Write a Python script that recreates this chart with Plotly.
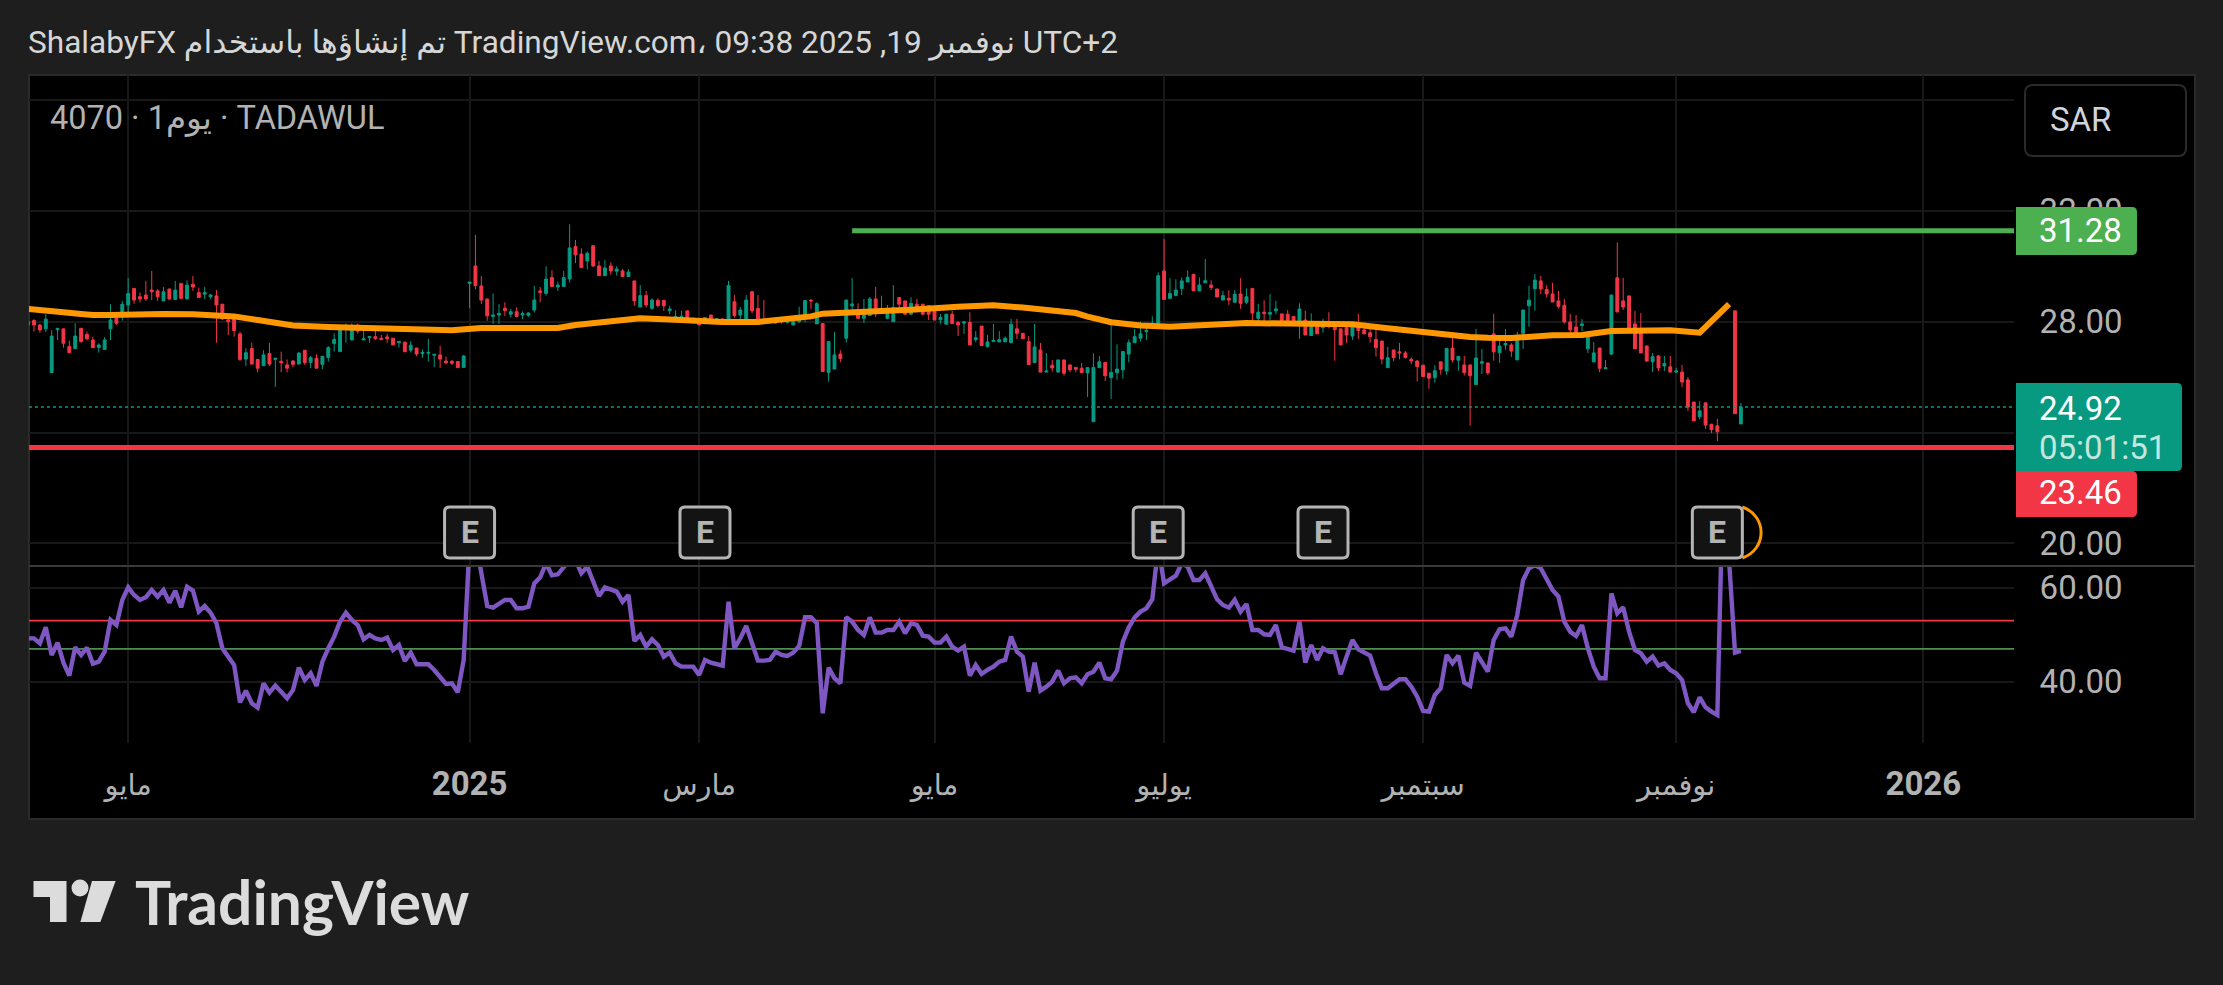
import plotly.graph_objects as go

opens = [28.00,28.04,27.88,27.74,26.16,27.71,27.74,27.10,27.03,27.76,
27.54,27.34,27.07,27.00,27.74,28.12,28.24,28.60,29.20,28.90,
28.96,29.14,29.11,28.75,29.18,28.80,29.38,28.82,29.35,29.05,
28.99,28.90,28.93,28.63,28.06,28.21,27.56,26.65,27.03,26.64,
26.41,26.85,26.64,26.57,26.44,26.58,26.47,26.97,26.53,26.68,
26.46,26.71,27.21,26.92,27.82,27.34,27.88,27.34,27.42,27.46,
27.40,27.45,27.40,27.24,27.26,26.97,27.05,26.85,26.86,26.79,
26.80,26.58,26.57,26.56,26.35,29.38,30.01,29.29,28.82,28.19,
28.24,28.48,28.27,28.36,28.24,28.23,28.42,29.11,29.02,29.59,
29.25,29.27,29.54,30.71,30.44,30.19,30.74,30.01,29.66,30.01,
29.82,29.83,29.63,29.47,28.53,28.94,28.48,28.77,28.77,28.40,
28.06,28.17,28.39,27.98,28.10,27.93,28.24,28.07,28.10,27.92,
28.72,28.24,28.07,29.08,28.48,28.06,28.06,27.95,28.12,27.98,
27.88,28.00,28.15,28.77,27.92,27.93,26.16,26.29,26.83,27.40,
28.57,28.42,28.12,28.22,28.82,28.31,28.12,28.00,28.87,28.75,
28.27,28.63,28.63,28.58,28.41,28.07,27.91,28.27,27.97,27.95,
27.97,27.35,27.84,27.10,27.28,27.27,27.27,27.24,27.74,27.58,
27.28,26.52,26.98,26.18,26.43,26.18,26.62,26.44,26.35,26.32,
26.15,24.39,26.34,26.53,25.98,26.16,26.26,26.83,27.24,27.40,
27.64,27.86,27.92,29.83,28.84,28.94,29.20,29.43,29.71,29.11,
29.40,29.32,29.18,28.78,28.84,28.70,29.00,28.70,29.20,28.12,
28.34,28.27,28.39,28.28,28.27,28.19,27.88,28.06,27.50,27.94,
27.78,27.98,27.91,27.74,27.78,27.48,27.86,27.70,27.60,27.36,
27.30,26.34,26.98,26.91,26.87,26.64,26.58,26.43,26.14,25.98,
26.55,26.22,27.05,26.61,26.44,26.44,25.73,26.50,26.51,27.56,
26.88,27.16,27.16,26.62,27.58,28.57,29.19,29.47,29.16,29.00,
28.75,28.59,27.99,27.81,27.86,27.02,26.55,27.05,26.30,26.83,
29.58,28.75,28.93,27.92,27.63,27.12,26.55,26.76,26.40,26.37,
26.18,26.18,25.90,25.10,24.57,25.07,24.30,24.24,None,None,28.39,24.31]

highs = [28.06,28.09,27.92,28.27,27.69,27.76,27.74,27.32,27.94,27.76,
27.64,27.46,27.22,27.44,28.63,28.30,28.75,29.57,29.20,29.05,
29.47,29.83,29.17,29.25,29.18,29.47,29.38,29.49,29.65,29.23,
29.25,29.00,29.14,28.63,28.24,28.24,27.64,27.04,27.24,26.64,
26.97,27.24,26.68,26.92,26.64,26.62,26.89,26.97,26.76,26.82,
26.76,27.12,27.58,27.84,27.94,27.94,27.93,27.74,27.46,27.84,
27.52,27.57,27.40,27.29,27.28,27.30,27.05,27.00,27.38,26.82,
27.12,26.74,26.62,26.58,26.80,29.43,31.13,29.65,28.82,29.02,
28.63,28.70,28.46,28.52,28.37,28.34,29.29,29.25,30.00,29.85,
29.44,29.83,31.51,30.95,30.65,30.53,30.77,30.19,30.23,30.14,
30.00,29.90,29.89,29.47,29.32,29.11,28.84,28.84,28.78,28.57,
28.41,28.39,28.39,28.16,28.10,28.16,28.24,28.12,28.12,29.47,
28.96,28.53,28.96,29.11,28.96,28.78,28.10,28.15,28.15,28.12,
28.12,28.54,28.78,28.82,28.70,27.95,27.30,27.62,26.97,28.78,
29.57,28.66,28.82,28.89,29.25,28.94,28.60,29.32,28.88,28.75,
28.88,28.82,28.63,28.60,28.42,28.28,28.27,28.39,28.03,28.03,
28.34,27.66,27.84,27.52,27.92,27.66,27.47,28.10,28.10,27.58,
27.48,27.92,27.23,26.87,26.62,26.62,26.62,26.44,26.35,26.51,
26.36,26.86,26.76,26.53,27.92,27.18,26.94,27.36,27.74,28.00,
27.78,28.19,29.78,30.98,29.57,29.53,29.60,29.85,29.71,29.60,
30.26,29.49,29.18,29.11,29.14,29.14,29.57,29.20,29.20,28.64,
28.77,28.99,28.75,28.28,28.42,28.19,28.66,28.39,28.30,28.00,
28.10,28.34,27.91,27.74,27.88,27.94,28.28,27.97,27.74,27.76,
27.30,27.09,26.98,27.23,26.94,26.71,26.62,26.43,26.14,26.43,
26.55,27.05,27.51,26.76,26.76,26.44,27.74,27.02,26.51,28.28,
27.34,27.74,27.23,27.63,28.42,29.29,29.72,29.65,29.32,29.40,
29.11,28.82,28.28,28.24,28.09,27.56,27.27,27.05,26.62,28.96,
30.86,29.58,28.93,28.39,28.31,27.15,26.87,26.80,26.76,26.76,
26.33,26.44,26.00,25.10,25.13,25.07,24.31,24.49,None,None,28.39,25.07]

lows = [27.82,27.64,27.60,27.62,26.16,27.34,27.06,26.88,27.03,27.24,
27.32,27.06,26.88,26.98,27.34,27.88,28.04,28.30,28.64,28.69,
28.75,28.78,28.75,28.75,28.78,28.80,28.84,28.82,29.11,28.87,
28.82,28.82,27.24,28.06,27.52,27.46,26.58,26.40,26.47,26.17,
26.41,26.40,25.64,26.17,26.17,26.35,26.47,26.44,26.32,26.32,
26.29,26.56,26.92,26.92,27.24,27.34,27.57,27.34,27.24,27.34,
27.34,27.24,27.16,27.06,26.89,26.89,26.75,26.70,26.56,26.36,
26.33,26.46,26.44,26.34,26.34,28.48,29.17,28.64,28.03,27.92,
27.92,28.21,28.15,28.15,28.10,28.17,28.33,28.70,28.94,29.25,
29.11,29.25,29.41,30.11,29.93,29.88,29.97,29.65,29.66,29.69,
29.66,29.61,29.61,28.57,28.53,28.51,28.43,28.51,28.39,28.27,
28.06,28.06,28.04,27.93,27.88,27.93,27.91,27.92,27.91,27.92,
28.15,27.92,28.07,28.30,27.91,27.92,27.93,27.93,27.93,27.93,
27.88,27.95,27.98,28.46,27.92,26.20,25.84,26.29,26.53,27.24,
28.27,28.10,27.95,28.22,28.17,28.30,28.09,28.00,28.46,28.24,
28.24,28.34,28.24,28.06,28.06,27.92,27.91,27.93,27.48,27.56,
27.16,27.26,27.14,27.06,27.28,27.26,27.27,27.24,27.38,27.38,
26.45,26.52,26.18,26.18,26.20,26.18,26.05,26.18,26.18,26.16,
25.28,24.39,26.34,25.86,25.21,25.90,25.94,26.53,27.24,27.28,
27.34,27.74,27.82,28.80,28.82,28.94,28.96,29.43,29.11,29.11,
29.40,29.14,28.89,28.78,28.60,28.70,28.46,28.63,27.98,27.92,
27.98,27.92,28.27,27.92,27.88,27.88,27.38,27.52,27.50,27.56,
27.60,27.76,26.59,27.16,27.24,27.34,27.38,27.56,27.24,26.74,
26.46,26.34,26.58,26.64,26.67,26.46,25.84,26.00,25.58,25.80,
26.09,26.08,26.53,26.23,26.06,24.25,25.73,26.11,26.08,26.59,
26.51,26.99,26.73,26.62,27.02,27.82,28.40,29.00,28.87,28.71,
28.48,27.93,27.53,27.56,27.66,26.87,26.55,26.18,26.30,26.80,
28.35,28.42,27.60,27.02,26.87,26.55,26.18,26.22,26.22,26.18,
26.15,25.64,24.78,24.42,24.48,24.13,23.98,23.69,None,None,24.68,24.31]

closes = [27.88,27.88,27.70,28.09,27.48,27.76,27.22,26.88,27.48,27.28,
27.38,27.06,27.16,27.34,28.06,27.94,28.63,29.02,28.78,28.82,
28.82,29.08,28.90,29.08,28.82,29.14,28.84,29.32,29.25,28.87,
29.05,28.96,28.60,28.10,28.00,27.68,26.64,26.88,26.47,26.32,
26.80,26.47,26.68,26.52,26.32,26.46,26.87,26.52,26.70,26.32,
26.75,27.06,27.36,27.84,27.84,27.82,27.66,27.38,27.46,27.39,
27.35,27.38,27.16,27.29,26.92,27.15,26.83,26.89,26.89,26.82,
26.65,26.52,26.50,26.34,26.76,29.43,29.30,28.78,28.21,28.24,
28.30,28.40,28.36,28.19,28.29,28.31,28.78,29.05,29.54,29.27,
29.32,29.59,30.66,30.41,29.95,30.47,30.01,29.66,29.94,29.83,
29.90,29.63,29.79,28.75,28.94,28.60,28.78,28.58,28.57,28.46,
28.19,28.19,28.07,28.10,27.88,28.15,28.03,28.10,27.95,29.30,
28.22,28.42,28.78,28.39,27.91,28.00,27.98,28.10,28.00,28.06,
28.09,28.22,28.76,28.75,28.65,26.20,27.28,26.80,26.67,28.78,
28.64,28.12,28.42,28.82,28.30,28.48,28.30,28.51,28.63,28.27,
28.66,28.48,28.27,28.27,28.06,28.15,28.27,27.93,27.88,27.99,
27.16,27.42,27.14,27.27,27.32,27.35,27.40,27.91,27.58,27.38,
26.45,27.09,26.18,26.22,26.33,26.62,26.14,26.26,26.28,26.16,
26.34,26.35,26.55,26.05,26.17,26.29,26.92,27.24,27.46,27.56,
27.69,27.94,29.66,28.80,29.02,29.14,29.47,29.60,29.11,29.32,
29.48,29.23,28.89,28.94,28.78,28.99,28.66,28.90,28.31,28.34,
28.29,28.33,28.46,27.92,27.88,27.88,28.46,27.52,28.00,27.56,
27.98,27.82,27.71,27.16,27.52,27.82,27.68,27.56,27.46,27.06,
26.65,26.70,26.70,26.87,26.71,26.58,26.38,26.02,25.96,26.23,
26.28,27.04,26.62,26.75,26.16,26.05,26.69,26.55,26.15,26.91,
27.12,27.21,26.94,27.45,28.42,28.78,29.50,29.18,29.00,28.71,
28.55,27.99,27.70,27.57,27.92,27.46,26.87,26.32,26.34,28.96,
28.35,28.53,27.64,27.02,26.87,26.58,26.73,26.33,26.49,26.18,
26.22,25.82,24.92,24.42,24.78,24.27,24.10,24.03,None,None,24.68,24.92]

ema_bars = [0,3,6,9,11,14,17,23,28,32,35,39,43,45,51,57,62,68,72,
            77,81,85,90,93,99,104,110,114,118,124,130,133,135,139,146,
            150,153,158,164,169,178,180,184,189,194,200,207,214,219,
            225,231,236,245,248,252,259,264,269,276,279,284,289]
ema_values = [28.46,28.42,28.34,28.28,28.24,28.24,28.27,28.28,28.27,28.23,28.19,28.06,27.89,27.86,27.81,27.77,27.72,27.70,27.69,
              27.77,27.77,27.74,27.77,27.88,28.03,28.12,28.07,28.03,27.99,27.99,28.11,28.19,28.29,28.31,28.39,
              28.43,28.48,28.54,28.59,28.51,28.31,28.18,27.98,27.86,27.82,27.89,27.95,27.93,27.91,
              27.91,27.76,27.64,27.45,27.42,27.41,27.51,27.52,27.66,27.69,27.69,27.60,28.63]

rsi = [49.23,49.23,48.17,51.57,45.69,48.31,44.06,41.29,47.32,45.69,
47.25,43.85,44.27,46.40,53.13,52.07,57.39,60.08,58.45,57.39,
57.96,59.52,58.10,59.52,56.82,59.37,55.83,60.22,59.37,54.91,
56.11,54.69,52.43,47.11,45.33,43.56,35.62,38.10,35.41,34.49,
39.66,37.68,39.17,37.68,36.47,38.24,42.99,40.37,41.79,39.10,
44.27,47.11,49.59,52.78,54.69,53.13,52.07,49.02,49.94,49.23,
48.88,49.38,46.75,47.82,44.41,46.19,43.70,43.70,43.70,42.50,
41.08,39.52,39.66,37.75,44.63,69.44,70.15,62.71,56.11,55.76,
56.68,57.39,57.39,55.62,55.62,55.97,60.93,62.21,65.19,62.63,
62.85,64.48,65.90,65.90,63.06,64.48,61.50,58.24,60.08,59.73,
59.16,57.03,58.45,48.67,49.94,47.46,49.02,47.82,45.33,46.19,
43.92,43.21,43.21,43.21,41.44,44.63,44.06,43.78,43.42,57.03,
47.11,49.23,51.86,48.17,44.48,44.48,44.63,46.40,45.69,45.48,
46.19,47.60,53.70,53.70,52.43,33.28,42.99,40.73,39.66,53.70,
52.78,51.01,49.94,53.70,50.44,50.44,51.01,51.01,52.78,50.30,
52.43,52.07,49.80,49.59,48.31,48.31,49.59,47.46,46.61,47.46,
41.29,43.56,41.65,42.50,43.21,44.27,44.63,49.59,46.40,45.33,
37.89,44.06,38.10,38.95,40.02,42.36,39.66,40.73,40.94,39.66,
41.58,42.14,44.06,40.73,40.51,42.36,48.53,51.57,53.70,54.91,
55.62,57.53,68.73,60.93,61.78,62.56,65.19,64.48,61.64,61.64,
63.06,60.22,57.53,56.32,55.76,57.39,54.91,56.54,51.01,51.01,
50.09,49.94,52.07,47.32,46.89,46.61,52.78,44.06,47.82,44.63,
47.11,46.40,46.26,41.58,45.33,48.88,46.89,46.19,45.55,41.79,
38.60,38.60,39.66,40.51,40.51,38.95,36.83,33.78,33.64,37.18,
38.60,45.69,43.92,45.55,39.80,39.10,46.19,44.27,42.14,48.88,
51.15,51.36,49.59,54.20,61.64,64.13,64.83,64.13,62.00,59.52,
58.10,52.78,50.65,49.73,52.07,47.11,43.21,40.73,40.73,58.81,
54.55,55.83,50.65,46.75,46.05,44.27,45.34,43.42,43.92,42.50,
41.79,40.37,35.41,33.50,36.69,34.56,33.64,32.93,85.00,65.20,46.19,46.54]

bars = list(range(len(closes)))
tick_bars = [17, 75, 114, 154, 193, 237, 280, 322]
tick_labels = ["مايو", "<span style='font-size:33px'><b>2025</b></span>", "مارس", "مايو", "يوليو", "سبتمبر", "نوفمبر",
               "<span style='font-size:33px'><b>2026</b></span>"]
earnings_bars = [75, 115, 192, 220, 287]
price_ticks = [20, 24, 28, 32, 36]
price_tick_labels = ["20.00", "", "28.00", "32.00", ""]
rsi_ticks = [40, 60]
resistance = 31.28
support = 23.46
last_price = 24.92
rsi_upper = 53
rsi_lower = 47
resistance_start_bar = 140
x_range = [0.15, 337.4]
price_range = [19.22, 36.90]
rsi_range = [26.96, 64.47]

W, H = 2223, 985
L, R, T, B = 29, 2014, 75, 743
FONT = "Roboto, 'DejaVu Sans', sans-serif"
TICK = "#b2b2b2"
BG = "#1e1e1e"

def px(x):
    return (x - L) / (R - L)

def py(y):
    return (B - y) / (B - T)

def bar_px(i):
    return L + (i - x_range[0]) / (x_range[1] - x_range[0]) * (R - L)

def rpath(x0, y0, x1, y1, r=4, rl=None):
    rl = r if rl is None else rl
    pts = [("M", x0 + rl, y0), ("L", x1 - r, y0), ("Q", x1, y0, x1, y0 + r), ("L", x1, y1 - r),
           ("Q", x1, y1, x1 - r, y1), ("L", x0 + rl, y1), ("Q", x0, y1, x0, y1 - rl),
           ("L", x0, y0 + rl), ("Q", x0, y0, x0 + rl, y0)]
    out = []
    for p in pts:
        coords = p[1:]
        s = p[0]
        for j in range(0, len(coords), 2):
            s += f" {px(coords[j]):.5f},{py(coords[j+1]):.5f}"
        out.append(s)
    return " ".join(out) + " Z"

def poly(points):
    return "M " + " L ".join(f"{px(a):.5f},{py(b):.5f}" for a, b in points) + " Z"

shapes = []
def add_path(path, fill, line=None, lw=0, layer="above"):
    shapes.append(dict(type="path", xref="paper", yref="paper", path=path, fillcolor=fill,
                       line=dict(color=line or fill, width=lw), layer=layer))

# panel
add_path(poly([(29, 75), (2195, 75), (2195, 819), (29, 819)]), "#000000", "#2a2a2a", 2, "below")
# pane separator
shapes.append(dict(type="line", xref="paper", yref="paper", x0=px(29), x1=px(2195), y0=py(566), y1=py(566),
                   line=dict(color="#3a3a3a", width=2), layer="above"))
# price tags
add_path(rpath(2016, 207, 2137, 255, 5, 0.01), "#4caf50")
add_path(rpath(2016, 383, 2182, 471, 5, 0.01), "#089981")
add_path(rpath(2016, 471, 2137, 517, 5, 0.01), "#f23645")
# currency button
add_path(rpath(2025, 85, 2186, 156, 8), "#000000", "#2a2a2a", 2)
# earnings arc on the latest badge
ex = bar_px(earnings_bars[-1])
shapes.append(dict(type="path", xref="paper", yref="paper",
                   path=(f"M {px(ex+25):.5f},{py(507):.5f} C {px(ex+50):.5f},{py(516):.5f} "
                         f"{px(ex+50):.5f},{py(549):.5f} {px(ex+25):.5f},{py(558):.5f}"),
                   line=dict(color="#ff9800", width=3), layer="above"))
# earnings badges
for b in earnings_bars:
    c = bar_px(b)
    add_path(rpath(c - 25, 507, c + 25, 558, 5), "#131313", "#b4b4b4", 3)
# logo
LOGO = "#dcdcdc"
add_path(poly([(33.5, 881), (66.5, 881), (66.5, 922), (50, 922), (50, 897), (33.5, 897)]), LOGO)
shapes.append(dict(type="circle", xref="paper", yref="paper", x0=px(71.5), x1=px(88.5), y0=py(896.5), y1=py(879.5),
                   fillcolor=LOGO, line=dict(width=0), layer="above"))
add_path(poly([(92, 881), (115.6, 881), (100.4, 922), (80.4, 922)]), LOGO)

annotations = []
def text(x, y, s, size, color, anchor="left"):
    annotations.append(dict(x=px(x), y=py(y), xref="paper", yref="paper", text=s, showarrow=False,
                            xanchor=anchor, yanchor="middle", font=dict(family=FONT, size=size, color=color)))

text(26, 42, "ShalabyFX تم إنشاؤها باستخدام TradingView.com، نوفمبر 19, 2025 09:38 UTC+2", 31.6, "#d6d6d6")
text(48, 118, "4070 · 1يوم · TADAWUL", 32.5, TICK)
text(2048, 120, "SAR", 33, "#d1d4dc")
text(2037, 231, "31.28", 33, "#ffffff")
text(2037, 408, "24.92", 33, "#ffffff")
text(2037, 447, "05:01:51", 33, "#c4e6df")
text(2037, 492, "23.46", 33, "#ffffff")
for b in earnings_bars:
    annotations.append(dict(x=px(bar_px(b)), y=py(532), xref="paper", yref="paper", text="<b>E</b>", showarrow=False,
                            xanchor="center", yanchor="middle", font=dict(family=FONT, size=32, color="#b4b4b4")))
annotations.append(dict(x=px(133), y=py(901), xref="paper", yref="paper", text="<b>TradingView</b>", showarrow=False,
                        xanchor="left", yanchor="middle", font=dict(family="Lato, Roboto, sans-serif", size=60.5, color=LOGO)))

fig = go.Figure()
fig.add_trace(go.Scatter(x=x_range, y=[last_price, last_price], mode="lines", xaxis="x", yaxis="y", hoverinfo="skip",
                         line=dict(color="#089981", width=1.5, dash="dot")))
fig.add_trace(go.Candlestick(x=bars, open=opens, high=highs, low=lows, close=closes, xaxis="x", yaxis="y",
                             whiskerwidth=0,
                             increasing=dict(line=dict(color="#089981", width=1), fillcolor="#089981"),
                             decreasing=dict(line=dict(color="#f23645", width=1), fillcolor="#f23645")))
fig.add_trace(go.Scatter(x=ema_bars, y=ema_values, mode="lines", xaxis="x", yaxis="y", hoverinfo="skip",
                         line=dict(color="#ff9800", width=6)))
fig.add_trace(go.Scatter(x=[resistance_start_bar, x_range[1]], y=[resistance, resistance], mode="lines", xaxis="x", yaxis="y",
                         hoverinfo="skip", line=dict(color="#4caf50", width=5)))
fig.add_trace(go.Scatter(x=x_range, y=[support, support], mode="lines", xaxis="x", yaxis="y", hoverinfo="skip",
                         line=dict(color="#f23645", width=5)))
fig.add_trace(go.Scatter(x=x_range, y=[rsi_upper, rsi_upper], mode="lines", xaxis="x", yaxis="y2", hoverinfo="skip",
                         line=dict(color="#f23645", width=1.8)))
fig.add_trace(go.Scatter(x=x_range, y=[rsi_lower, rsi_lower], mode="lines", xaxis="x", yaxis="y2", hoverinfo="skip",
                         line=dict(color="#4c9150", width=1.8)))
fig.add_trace(go.Scatter(x=bars, y=rsi, mode="lines", xaxis="x", yaxis="y2", hoverinfo="skip",
                         line=dict(color="#7e57c2", width=4.4)))

GRID = "#181818"
fig.update_layout(
    width=W, height=H, autosize=False, showlegend=False,
    paper_bgcolor=BG, plot_bgcolor="#000000",
    margin=dict(l=L, r=W - R, t=T, b=H - B, pad=0, autoexpand=False),
    font=dict(family=FONT, color=TICK),
    shapes=shapes, annotations=annotations,
    xaxis=dict(domain=[0, 1], anchor="y2", range=x_range, tickmode="array", tickvals=tick_bars, ticktext=tick_labels,
               showgrid=True, gridcolor=GRID, gridwidth=1.5, zeroline=False, showline=False,
               ticks="outside", ticklen=16, tickcolor="rgba(0,0,0,0)", tickangle=0,
               tickfont=dict(family=FONT, size=29, color=TICK), rangeslider=dict(visible=False)),
    yaxis=dict(domain=[py(565), 1], anchor="x", side="right", range=price_range, tickmode="array", tickvals=price_ticks,
               ticktext=price_tick_labels, showgrid=True, gridcolor=GRID, gridwidth=1.5, zeroline=False, showline=False,
               ticks="outside", ticklen=18, tickcolor="rgba(0,0,0,0)", tickfont=dict(family=FONT, size=33, color=TICK)),
    yaxis2=dict(domain=[0, py(566.7)], anchor="x", side="right", range=rsi_range, tickmode="array", tickvals=rsi_ticks,
                tickformat=".2f", showgrid=True, gridcolor=GRID, gridwidth=1.5, zeroline=False, showline=False,
                ticks="outside", ticklen=18, tickcolor="rgba(0,0,0,0)", tickfont=dict(family=FONT, size=33, color=TICK)),
)

fig.write_html("out.html", config=dict(displayModeBar=False),
               post_script="document.body.style.margin='0';document.documentElement.style.background='#1e1e1e';")
